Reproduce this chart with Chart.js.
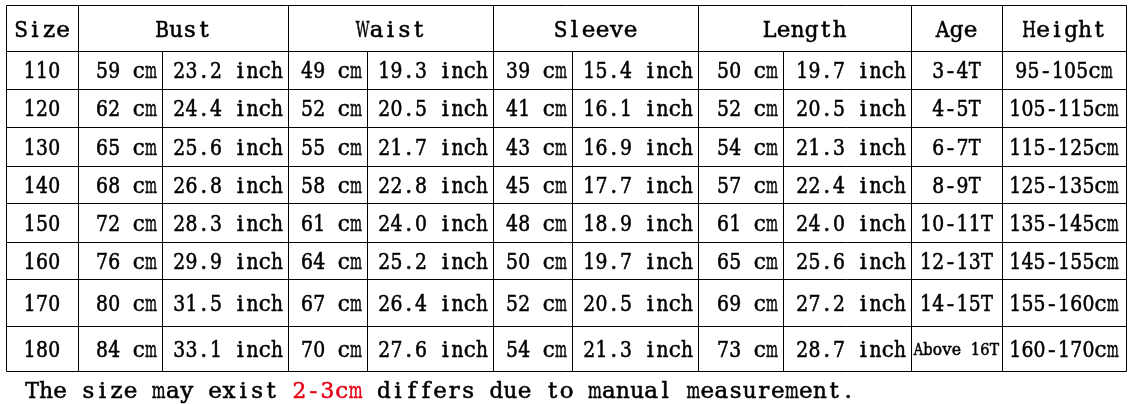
<!DOCTYPE html>
<html>
<head>
<meta charset="utf-8">
<script src="https://cdn.jsdelivr.net/npm/chart.js@4"></script>
<style>
  html, body { margin: 0; padding: 0; background: #fff; }
  canvas { display: block; }
</style>
</head>
<body>
<canvas id="sizeChart" width="1131" height="404"></canvas>
<script>
// table data
const headers = ["Size", "Bust", "Waist", "Sleeve", "Length", "Age", "Height"];
const sizes = ["110", "120", "130", "140", "150", "160", "170", "180"];
const bustCm = [59, 62, 65, 68, 72, 76, 80, 84];
const bustInch = [23.2, 24.4, 25.6, 26.8, 28.3, 29.9, 31.5, 33.1];
const waistCm = [49, 52, 55, 58, 61, 64, 67, 70];
const waistInch = [19.3, 20.5, 21.7, 22.8, 24.0, 25.2, 26.4, 27.6];
const sleeveCm = [39, 41, 43, 45, 48, 50, 52, 54];
const sleeveInch = [15.4, 16.1, 16.9, 17.7, 18.9, 19.7, 20.5, 21.3];
const lengthCm = [50, 52, 54, 57, 61, 65, 69, 73];
const lengthInch = [19.7, 20.5, 21.3, 22.4, 24.0, 25.6, 27.2, 28.7];
const ages = ["3-4T", "4-5T", "6-7T", "8-9T", "10-11T", "12-13T", "14-15T", "Above 16T"];
const heights = ["95-105cm", "105-115cm", "115-125cm", "125-135cm", "135-145cm", "145-155cm", "155-160cm", "160-170cm"];
const noteParts = ["The size may exist ", "2-3cm", " differs due to manual measurement."];

// layout (scale units)
const colEdges = [6, 78, 162, 288, 367, 493, 572, 698, 783, 911, 1002, 1126];
const rowEdges = [5, 51, 89, 127, 166, 203, 242, 279, 326, 371];
const headerSpans = [[0, 1], [1, 3], [3, 5], [5, 7], [7, 9], [9, 10], [10, 11]];
const colAlign = ["center", "right", "right", "right", "right", "right", "right", "right", "right", "center", "center"];
const FONT = "'DejaVu Serif', 'Liberation Serif', serif";

const bodyRows = sizes.map((s, i) => [
  s,
  `${bustCm[i]} cm`, `${bustInch[i].toFixed(1)} inch`,
  `${waistCm[i]} cm`, `${waistInch[i].toFixed(1)} inch`,
  `${sleeveCm[i]} cm`, `${sleeveInch[i].toFixed(1)} inch`,
  `${lengthCm[i]} cm`, `${lengthInch[i].toFixed(1)} inch`,
  ages[i], heights[i]
]);

// draws text in fixed-pitch cells, like the song-style half-width font
const drawMono = (ctx, text, startX, baseY, pitch) => {
  ctx.strokeStyle = ctx.fillStyle;
  ctx.lineWidth = 0.55;
  [...text].forEach((ch, k) => {
    if (ch === " ") return;
    const cx = startX + pitch * (k + 0.5);
    ctx.fillText(ch, cx, baseY, pitch * 0.98);
    ctx.strokeText(ch, cx, baseY, pitch * 0.98);
  });
};

const placeText = (ctx, text, left, right, centerY, size, pitch, align, pad) => {
  ctx.font = `${size}px ${FONT}`;
  const w = text.length * pitch;
  let x0;
  if (align === "right") x0 = right - pad - w;
  else x0 = (left + right) / 2 - w / 2;
  drawMono(ctx, text, x0, centerY + size * 0.364, pitch);
};

const tablePlugin = {
  id: "sizeTable",
  afterDraw(chart) {
    const { ctx, scales: { x, y } } = chart;
    const px = v => Math.round(x.getPixelForValue(v)) + 0.5;
    const py = v => Math.round(y.getPixelForValue(v)) + 0.5;
    ctx.save();
    ctx.strokeStyle = "#000";
    ctx.lineWidth = 1;
    ctx.beginPath();
    rowEdges.forEach(r => {
      ctx.moveTo(px(colEdges[0]), py(r));
      ctx.lineTo(px(colEdges[colEdges.length - 1]), py(r));
    });
    colEdges.forEach((c, i) => {
      const split = [2, 4, 6, 8].includes(i);
      ctx.moveTo(px(c), py(split ? rowEdges[1] : rowEdges[0]));
      ctx.lineTo(px(c), py(rowEdges[rowEdges.length - 1]));
    });
    ctx.stroke();

    ctx.fillStyle = "#000";
    ctx.textAlign = "center";
    ctx.textBaseline = "alphabetic";
    const headY = (y.getPixelForValue(rowEdges[0]) + y.getPixelForValue(rowEdges[1])) / 2 + 1;
    headers.forEach((h, i) => {
      const [a, b] = headerSpans[i];
      placeText(ctx, h, x.getPixelForValue(colEdges[a]), x.getPixelForValue(colEdges[b]), headY, 23, 14, "center", 0);
    });

    bodyRows.forEach((row, r) => {
      const cy = (y.getPixelForValue(rowEdges[r + 1]) + y.getPixelForValue(rowEdges[r + 2])) / 2;
      row.forEach((txt, c) => {
        const l = x.getPixelForValue(colEdges[c]);
        const rr = x.getPixelForValue(colEdges[c + 1]);
        if (txt.length > 8 && c === 9) {
          placeText(ctx, txt, l, rr, cy, 17, 9.5, "center", 0);
        } else {
          placeText(ctx, txt, l, rr, cy, 22, 12.2, colAlign[c], 5);
        }
      });
    });

    // footnote
    ctx.font = `23px ${FONT}`;
    let nx = x.getPixelForValue(25);
    const ny = y.getPixelForValue(398);
    noteParts.forEach((part, i) => {
      ctx.fillStyle = i === 1 ? "#e60012" : "#000";
      drawMono(ctx, part, nx, ny, 14.07);
      nx += part.length * 14.07;
    });
    ctx.restore();
  }
};

const chartTable = new Chart(document.getElementById("sizeChart"), {
  type: "scatter",
  data: { datasets: [{ data: [], pointRadius: 0 }] },
  options: {
    responsive: false,
    animation: false,
    devicePixelRatio: 1,
    layout: { padding: 0 },
    plugins: { legend: { display: false }, tooltip: { enabled: false } },
    scales: {
      x: { type: "linear", min: 0, max: 1131, display: false },
      y: { type: "linear", min: 0, max: 404, reverse: true, display: false }
    }
  },
  plugins: [tablePlugin]
});
</script>
</body>
</html>
